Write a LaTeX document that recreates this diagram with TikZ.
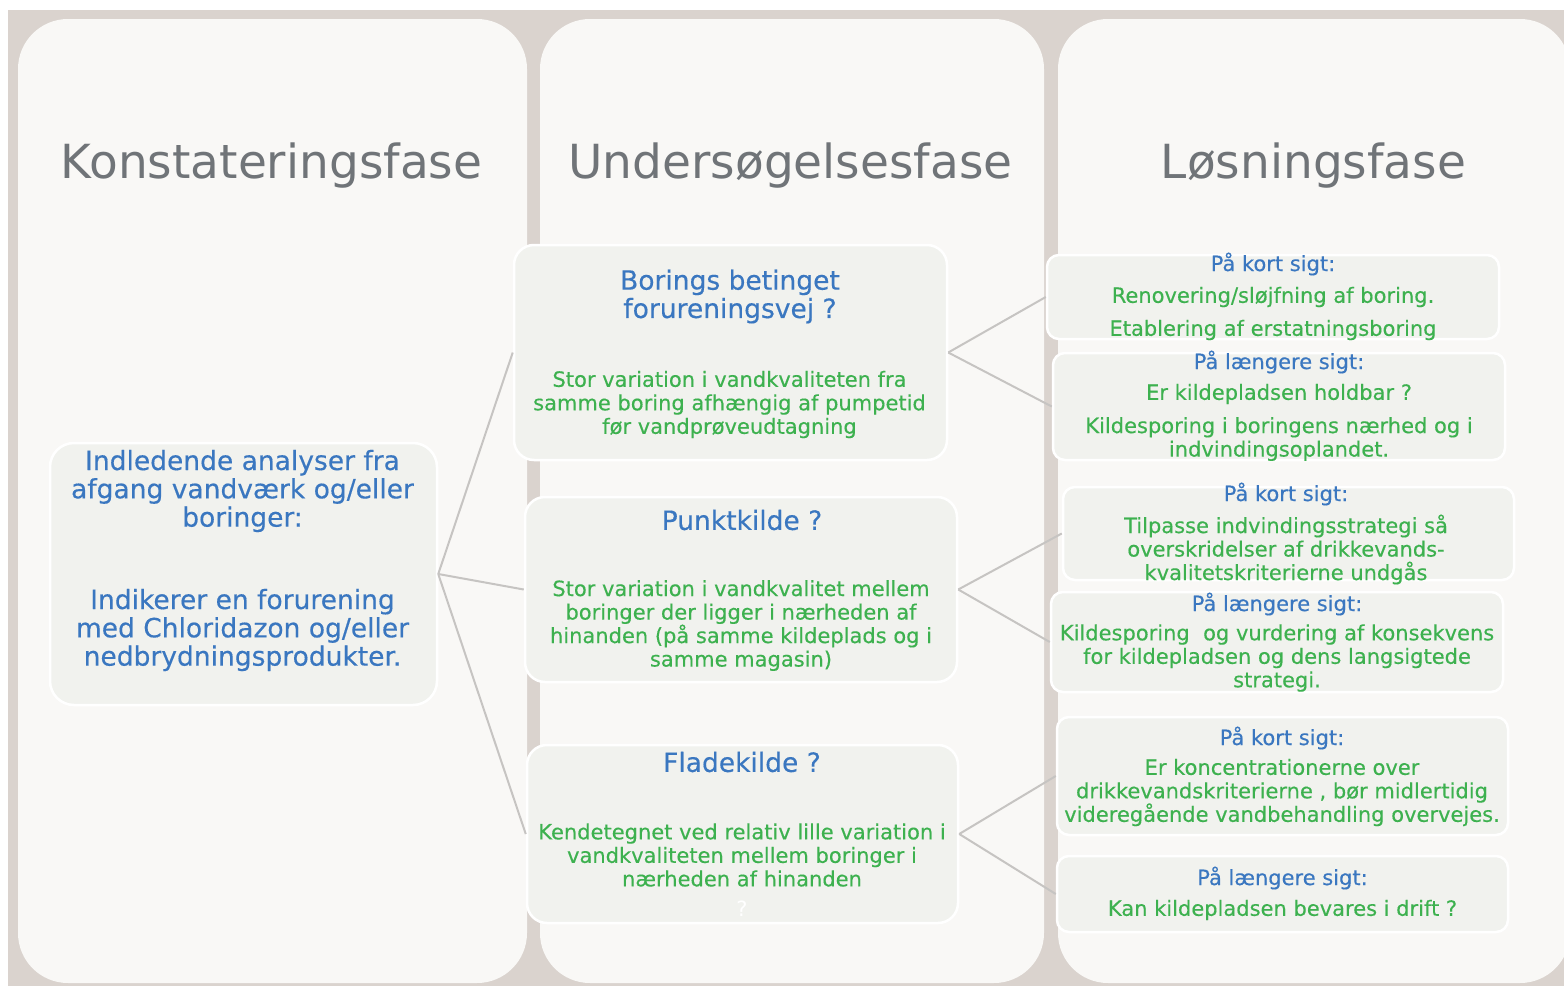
\documentclass[tikz,border=0pt]{standalone}
\usepackage{fontspec}
\setmainfont{DejaVu Sans}
\newfontfamily\boxfont{DejaVu Sans}[RawFeature={embolden=0.35}]
\definecolor{bgbeige}{HTML}{DAD3CE}
\definecolor{colfill}{HTML}{F9F8F6}
\definecolor{boxfill}{HTML}{F1F2EE}
\definecolor{txtblue}{HTML}{3A77C0}
\definecolor{txtgreen}{HTML}{3DB14F}
\definecolor{txtgray}{HTML}{707478}
\definecolor{connc}{HTML}{C6C4C2}
\tikzset{
  colbox/.style={fill=colfill, rounded corners=50pt},
  phasetitle/.style={text=txtgray, font=\fontsize{47}{50}\selectfont, anchor=base, inner sep=0},
  bigbox/.style={draw=white, line width=2.5pt, fill=boxfill, rounded corners=24pt, inner sep=0},
  midbox/.style={draw=white, line width=2.5pt, fill=boxfill, rounded corners=20pt, inner sep=0},
  smallbox/.style={draw=white, line width=2.5pt, fill=boxfill, rounded corners=12pt, inner sep=0},
  bluebig/.style={text=txtblue, align=center, inner sep=0, font=\boxfont\fontsize{26.5}{28.3}\selectfont},
  bluesmall/.style={text=txtblue, align=center, inner sep=0, font=\boxfont\fontsize{21}{23.5}\selectfont},
  greentxt/.style={text=txtgreen, align=center, inner sep=0, font=\boxfont\fontsize{21}{23.5}\selectfont},
  conn/.style={draw=connc, line width=2pt},
}
\begin{document}
\begin{tikzpicture}[x=1pt,y=-1pt]
\useasboundingbox (0,0) rectangle (1564,988);
\fill[white] (0,0) rectangle (1564,988);
\fill[bgbeige] (8,10) rectangle (1564,986);
% columns
\fill[colbox] (18,19) rectangle (527,983);
\fill[colbox] (540,19) rectangle (1044,983);
\fill[colbox] (1058,19) rectangle (1570,983);
% titles
\node[phasetitle] (t1) at (271.5,178) {Konstateringsfase};
\node[phasetitle] (t2) at (790.5,178) {Undersøgelsesfase};
\node[phasetitle] (t3) at (1313.5,178) {Løsningsfase};
% boxes
\node[bigbox, minimum width=387pt, minimum height=262pt] (a) at (243.5,574) {};
\node[midbox, minimum width=433pt, minimum height=215pt] (b1) at (730.5,352.5) {};
\node[midbox, minimum width=432pt, minimum height=185pt] (b2) at (741,589.5) {};
\node[midbox, minimum width=431pt, minimum height=178pt] (b3) at (742.5,834) {};
\node[smallbox, minimum width=452pt, minimum height=84pt] (r1) at (1273,297) {};
\node[smallbox, minimum width=452pt, minimum height=107pt] (r2) at (1279,406.5) {};
\node[smallbox, minimum width=451pt, minimum height=93pt] (r3) at (1288.5,533.5) {};
\node[smallbox, minimum width=452pt, minimum height=100pt] (r4) at (1277,642) {};
\node[smallbox, minimum width=451pt, minimum height=118pt] (r5) at (1282.5,776) {};
\node[smallbox, minimum width=451pt, minimum height=76pt] (r6) at (1282.5,894) {};
% connectors
\draw[conn] (a.east) -- (b1.west);
\draw[conn] (a.east) -- (b2.west);
\draw[conn] (a.east) -- (b3.west);
\draw[conn] (b1.east) -- (r1.west);
\draw[conn] (b1.east) -- (r2.west);
\draw[conn] (b2.east) -- (r3.west);
\draw[conn] (b2.east) -- (r4.west);
\draw[conn] (b3.east) -- (r5.west);
\draw[conn] (b3.east) -- (r6.west);
% texts left box
\node[bluebig] (a1) at (242.5,491) {Indledende analyser fra\\afgang vandværk og/eller\\boringer:};
\node[bluebig] (a2) at (242.5,630) {Indikerer en forurening\\med Chloridazon og/eller\\nedbrydningsprodukter.};
% middle boxes
\node[bluebig] (b1h) at (730,296.5) {Borings betinget\\forureningsvej ?};
\node[greentxt] (b1t) at (729.5,404.5) {Stor variation i vandkvaliteten fra\\samme boring afhængig af pumpetid\\før vandprøveudtagning};
\node[bluebig] (b2h) at (742,520) {Punktkilde ?};
\node[greentxt] (b2t) at (741,625.5) {Stor variation i vandkvalitet mellem\\boringer der ligger i nærheden af\\hinanden (på samme kildeplads og i\\samme magasin)};
\node[bluebig] (b3h) at (742,762) {Fladekilde ?};
\node[greentxt] (b3t) at (742,855) {Kendetegnet ved relativ lille variation i\\vandkvaliteten mellem boringer i\\nærheden af hinanden};
\node[text=white, inner sep=0, font=\fontsize{21}{23.5}\selectfont] (b3q) at (742,909) {?};
% right boxes
\node[bluesmall] (r1h) at (1273,264) {På kort sigt:};
\node[greentxt] (r1a) at (1273,297) {Renovering/sløjfning af boring.};
\node[greentxt] (r1b) at (1273,330) {Etablering af erstatningsboring};
\node[bluesmall] (r2h) at (1279,362) {På længere sigt:};
\node[greentxt] (r2a) at (1279,394) {Er kildepladsen holdbar ?};
\node[greentxt] (r2b) at (1279,439) {Kildesporing i boringens nærhed og i\\indvindingsoplandet.};
\node[bluesmall] (r3h) at (1286,494) {På kort sigt:};
\node[greentxt] (r3a) at (1286,549.5) {Tilpasse indvindingsstrategi så\\overskridelser af drikkevands-\\kvalitetskriterierne undgås};
\node[bluesmall] (r4h) at (1277,604) {På længere sigt:};
\node[greentxt] (r4a) at (1277,658) {Kildesporing\ \ og vurdering af konsekvens\\for kildepladsen og dens langsigtede\\strategi.};
\node[bluesmall] (r5h) at (1282,738) {På kort sigt:};
\node[greentxt] (r5a) at (1282,792.5) {Er koncentrationerne over\\drikkevandskriterierne , bør midlertidig\\videregående vandbehandling overvejes.};
\node[bluesmall] (r6h) at (1282.5,878) {På længere sigt:};
\node[greentxt] (r6a) at (1282.5,910) {Kan kildepladsen bevares i drift ?};
\end{tikzpicture}
\end{document}
